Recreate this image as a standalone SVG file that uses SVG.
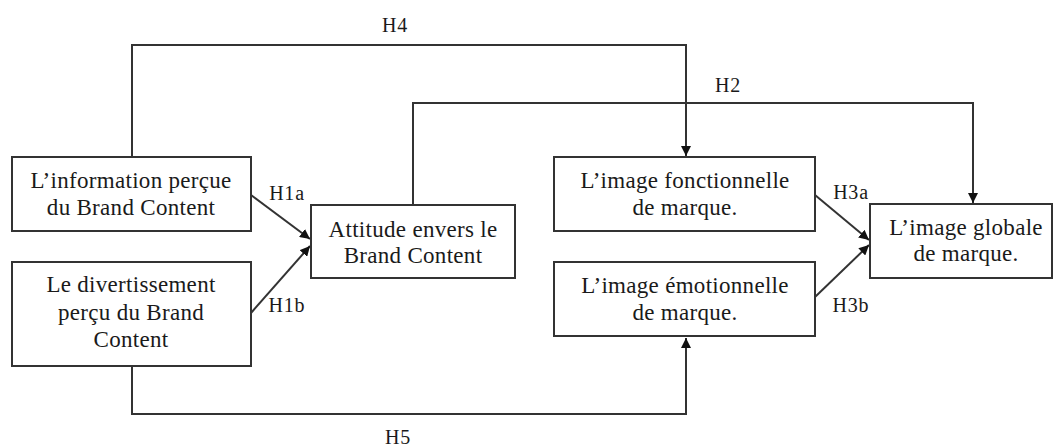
<svg xmlns="http://www.w3.org/2000/svg" width="1062" height="446" viewBox="0 0 1062 446">
  <defs>
    <marker id="arrow" viewBox="0 0 10 10" refX="10" refY="5" markerWidth="10" markerHeight="10" markerUnits="userSpaceOnUse" orient="auto">
      <path d="M0,0 L10,5 L0,10 z" fill="#111"/>
    </marker>
    <style>
      .box { fill: #fff; stroke: #333; stroke-width: 2; }
      text { font-family: 'Liberation Serif', 'DejaVu Serif', serif; fill: #1a1a1a; text-anchor: middle; }
      .lbl { font-size: 23px; letter-spacing: 0.3px; }
      .hyp { font-size: 20px; letter-spacing: 0.8px; }
      .wire { fill: none; stroke: #333; stroke-width: 2; }
      .arr { marker-end: url(#arrow); }
    </style>
  </defs>
  <rect width="1062" height="446" fill="#fff"/>

  <!-- connectors -->
  <g id="connectors">
    <!-- H4: information -> functional image -->
    <path class="wire arr" d="M132,157 V45 H686 V156"/>
    <!-- H2: attitude -> global image -->
    <path class="wire arr" d="M413,205 V103 H973 V203"/>
    <!-- H5: entertainment -> emotional image -->
    <path class="wire arr" d="M132,366 V414 H686 V338"/>
    <!-- H1a / H1b -->
    <path class="wire arr" d="M251,195 L310,239"/>
    <path class="wire arr" d="M251,313 L310,246"/>
    <!-- H3a / H3b -->
    <path class="wire arr" d="M815,195 L869,240"/>
    <path class="wire arr" d="M815,297 L869,245"/>
    <text class="hyp" x="395" y="32">H4</text>
    <text class="hyp" x="728" y="92">H2</text>
    <text class="hyp" x="398" y="444">H5</text>
    <text class="hyp" x="287" y="200">H1a</text>
    <text class="hyp" x="287" y="312">H1b</text>
    <text class="hyp" x="851" y="199">H3a</text>
    <text class="hyp" x="851" y="312">H3b</text>
  </g>

  <g id="info">
    <rect class="box" x="12" y="157" width="239" height="74"/>
    <text class="lbl" x="131" y="188">L’information perçue</text>
    <text class="lbl" x="131" y="215">du Brand Content</text>
  </g>

  <g id="divertissement">
    <rect class="box" x="12" y="262" width="239" height="104"/>
    <text class="lbl" x="131" y="292">Le divertissement</text>
    <text class="lbl" x="131" y="320">perçu du Brand</text>
    <text class="lbl" x="131" y="347">Content</text>
  </g>

  <g id="attitude">
    <rect class="box" x="311" y="205" width="204" height="73"/>
    <text class="lbl" x="413" y="237">Attitude envers le</text>
    <text class="lbl" x="413" y="263">Brand Content</text>
  </g>

  <g id="fonctionnelle">
    <rect class="box" x="554" y="157" width="261" height="74"/>
    <text class="lbl" x="685" y="188">L’image fonctionnelle</text>
    <text class="lbl" x="685" y="215">de marque.</text>
  </g>

  <g id="emotionnelle">
    <rect class="box" x="554" y="262" width="261" height="74"/>
    <text class="lbl" x="685" y="293">L’image émotionnelle</text>
    <text class="lbl" x="685" y="320">de marque.</text>
  </g>

  <g id="globale">
    <rect class="box" x="870" y="204" width="182" height="74"/>
    <text class="lbl" x="966" y="235">L’image globale</text>
    <text class="lbl" x="966" y="261">de marque.</text>
  </g>
</svg>
